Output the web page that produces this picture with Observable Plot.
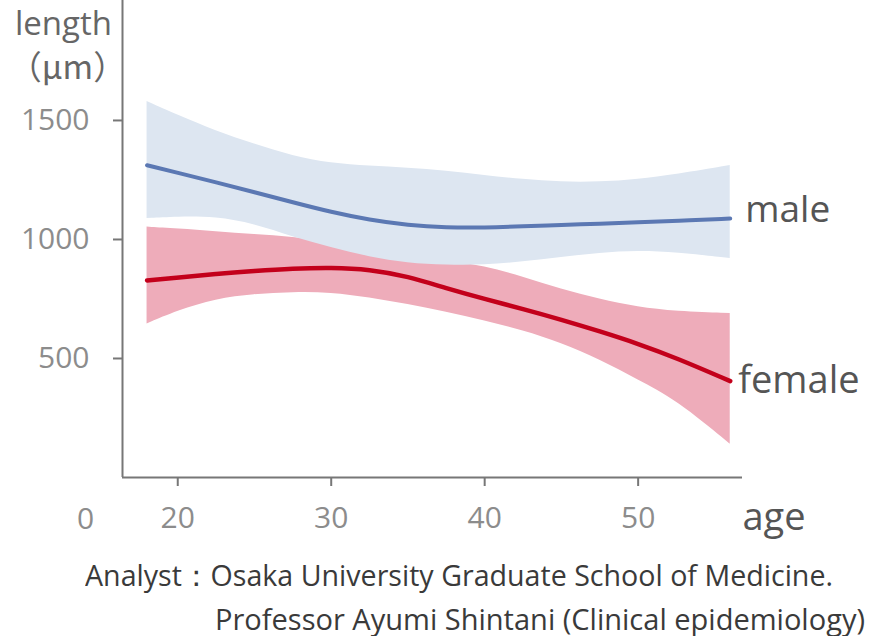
<!DOCTYPE html>
<html>
<head>
<meta charset="utf-8">
<script src="https://cdn.jsdelivr.net/npm/d3@7"></script>
<script src="https://cdn.jsdelivr.net/npm/@observablehq/plot@0.6"></script>
<style>
  html, body { margin: 0; padding: 0; background: #fff; overflow: hidden; }
  #chart svg { display: block; }
  .cap { font-family: "Open Sans", "Noto Sans", sans-serif; font-size: 30px; color: #3a3a3a; white-space: nowrap; line-height: 34px; height: 34px; }
  .cap span { display: inline-block; transform-origin: 0 50%; }
</style>
</head>
<body>
<div id="chart"></div>
<div class="cap" style="padding-left:85px; margin-top:8px"><span id="c1">Analyst：Osaka University Graduate School of Medicine.</span></div>
<div class="cap" style="padding-left:215px; margin-top:10px"><span id="c2">Professor Ayumi Shintani (Clinical epidemiology)</span></div>
<script>
// ---- data ----
const ages       = [18,   20,   22.5, 25,   27.5, 30,   32.5, 35,   37.5, 40,   42.5, 45,   47.5, 50,   52.5, 56];
const maleMean   = [1312, 1280, 1240, 1199, 1156, 1115, 1082, 1060, 1050, 1050, 1055, 1061, 1066, 1072, 1078, 1088];
const maleUpper  = [1580, 1522, 1455, 1400, 1350, 1319, 1308, 1300, 1288, 1268, 1252, 1240, 1240, 1252, 1272, 1311];
const maleLower  = [1088, 1095, 1095, 1065, 1010,  966,  925,  900,  891,  891,  905,  925,  943,  952,  945,  920];
const femaleMean = [ 828,  840,  856,  868,  878,  882,  875,  845,  795,  750,  708,  663,  614,  562,  502,  405];
const femaleUpper= [1052, 1045, 1033, 1020, 1010,  990,  962,  935,  910,  888,  842,  790,  748,  715,  697,  689];
const femaleLower= [ 645,  700,  750,  770,  778,  777,  755,  727,  695,  658,  618,  565,  495,  410,  325,  140];
const xTicks = [20, 30, 40, 50];
const yTicks = [500, 1000, 1500];
const seriesLabels = ["male", "female"];
const yLabel = "length";
const yUnit = "（μm）";
const xLabel = "age";
const originLabel = "0";

const male = ages.map((a, i) => ({age: a, mean: maleMean[i], lo: maleLower[i], hi: maleUpper[i]}));
const female = ages.map((a, i) => ({age: a, mean: femaleMean[i], lo: femaleLower[i], hi: femaleUpper[i]}));
const last = ages.length - 1;

const font = '"Open Sans", "Noto Sans CJK JP", sans-serif';
const curve = "basis";

const chart = Plot.plot({
  width: 877,
  height: 550,
  marginLeft: 122,
  marginRight: 135,
  marginTop: 0,
  marginBottom: 73,
  style: {fontFamily: font, background: "#fff"},
  x: {domain: [16.4, 56.8]},
  y: {domain: [0, 2004]},
  marks: [
    Plot.areaY(female, {x: "age", y1: "lo", y2: "hi", fill: "#eeacba", curve}),
    Plot.areaY(male, {x: "age", y1: "lo", y2: "hi", fill: "#dde6f1", curve}),
    Plot.lineY(male, {x: "age", y: "mean", stroke: "#5b78b3", strokeWidth: 4, curve}),
    Plot.lineY(female, {x: "age", y: "mean", stroke: "#c3001b", strokeWidth: 4.5, curve}),
    Plot.ruleY([0], {stroke: "#777", strokeWidth: 2}),
    Plot.ruleX([16.4], {stroke: "#777", strokeWidth: 2}),
    Plot.axisY(yTicks, {tickSize: 9, tickPadding: 24, tickFormat: d => String(d), stroke: "#777", strokeWidth: 2, fill: "#8c8c8c", fontSize: 30, label: null}),
    Plot.axisX(xTicks, {tickSize: 9, tickPadding: 20, tickFormat: d => String(d), stroke: "#777", strokeWidth: 2, fill: "#8c8c8c", fontSize: 30, label: null}),
    Plot.text([originLabel], {frameAnchor: "bottom-left", textAnchor: "middle", dx: -37, dy: 51, fill: "#8c8c8c", fontSize: 30}),
    Plot.text([yLabel], {frameAnchor: "top-left", textAnchor: "middle", dx: -59, dy: 11, fill: "#666", fontSize: 33}),
    Plot.text([yUnit], {frameAnchor: "top-left", textAnchor: "middle", dx: -55, dy: 55, fill: "#666", fontSize: 33, fontFamily: '"Noto Sans CJK JP", sans-serif'}),
    Plot.text([xLabel], {frameAnchor: "bottom-right", textAnchor: "start", dx: 0, dy: 52, fill: "#555", fontSize: 38}),
    Plot.text([{age: ages[last], v: maleMean[last], label: seriesLabels[0]}],
      {x: "age", y: "v", text: "label", textAnchor: "start", dx: 15, dy: -8, fill: "#555", fontSize: 37}),
    Plot.text([{age: ages[last], v: femaleMean[last], label: seriesLabels[1]}],
      {x: "age", y: "v", text: "label", textAnchor: "start", dx: 8, dy: 0, fill: "#555", fontSize: 38})
  ]
});
document.getElementById("chart").append(chart);

// fit caption lines to the reference's widths
function fit(id, w) {
  const el = document.getElementById(id);
  const r = el.getBoundingClientRect().width;
  el.style.transform = `scaleX(${w / r})`;
}
fit("c1", 748);
fit("c2", 650);
</script>
</body>
</html>
